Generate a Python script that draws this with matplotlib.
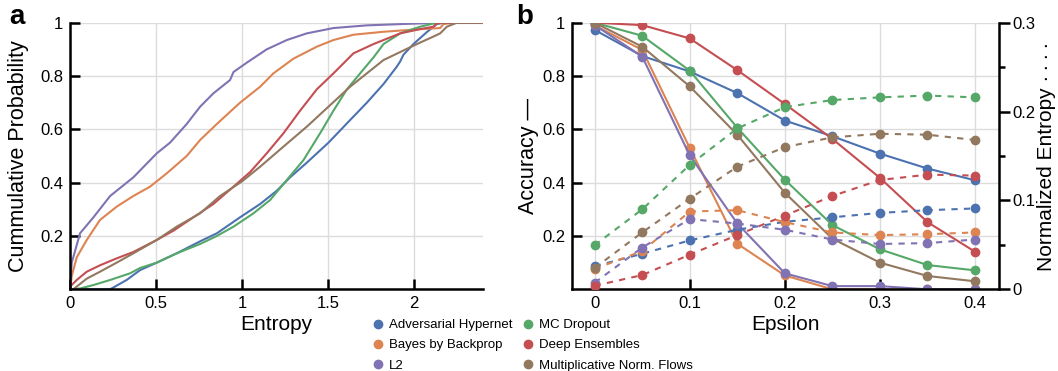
import matplotlib
matplotlib.use('Agg')
import matplotlib.pyplot as plt
from matplotlib.lines import Line2D
from matplotlib.ticker import FuncFormatter, MultipleLocator

plt.rcParams['font.family'] = ['Liberation Sans', 'DejaVu Sans']

# ---- data -------------------------------------------------------------
methods = ['Adversarial Hypernet', 'Bayes by Backprop', 'L2',
           'MC Dropout', 'Deep Ensembles', 'Multiplicative Norm. Flows']
colors = ['#4C72B0', '#DD8452', '#8172B3', '#55A868', '#C44E52', '#937860']

ent_ah = [0, 0.233, 0.329, 0.407, 0.504, 0.620, 0.756, 0.853, 0.988, 1.105, 1.202,
          1.279, 1.376, 1.502, 1.628, 1.725, 1.822, 1.899, 1.919, 1.938, 1.996,
          2.074, 2.132, 2.171, 2.4]
cdf_ah = [0, 0.0, 0.035, 0.072, 0.10, 0.135, 0.18, 0.21, 0.27, 0.32, 0.37,
          0.42, 0.475, 0.55, 0.635, 0.70, 0.77, 0.835, 0.855, 0.88, 0.92,
          0.965, 0.995, 1.0, 1.0]

ent_bbb = [0, 0.01, 0.039, 0.097, 0.174, 0.271, 0.368, 0.465, 0.562, 0.678, 0.756,
           0.853, 0.988, 1.105, 1.182, 1.298, 1.434, 1.531, 1.647, 1.822, 2.016,
           2.151, 2.171, 2.229, 2.4]
cdf_bbb = [0, 0.05, 0.12, 0.185, 0.26, 0.31, 0.35, 0.385, 0.435, 0.50, 0.56,
           0.62, 0.70, 0.76, 0.81, 0.865, 0.91, 0.935, 0.955, 0.966, 0.975,
           0.98, 0.995, 1.0, 1.0]

ent_l2 = [0, 0.01, 0.058, 0.136, 0.233, 0.368, 0.504, 0.581, 0.678, 0.756, 0.833,
          0.930, 0.95, 1.027, 1.143, 1.26, 1.376, 1.531, 1.725, 2.016, 2.21, 2.4]
cdf_l2 = [0, 0.10, 0.21, 0.27, 0.35, 0.42, 0.51, 0.55, 0.62, 0.685, 0.735,
          0.785, 0.815, 0.85, 0.90, 0.935, 0.96, 0.98, 0.99, 0.997, 1.0, 1.0]

ent_mc = [0, 0.058, 0.136, 0.233, 0.349, 0.407, 0.504, 0.620, 0.756, 0.853, 0.95,
          1.066, 1.163, 1.26, 1.357, 1.453, 1.531, 1.609, 1.686, 1.764, 1.822,
          1.919, 2.035, 2.112, 2.2, 2.4]
cdf_mc = [0, 0.003, 0.016, 0.035, 0.06, 0.08, 0.10, 0.135, 0.17, 0.20, 0.235,
          0.285, 0.335, 0.41, 0.485, 0.585, 0.67, 0.75, 0.81, 0.87, 0.92,
          0.96, 0.985, 0.997, 1.0, 1.0]

ent_de = [0, 0.039, 0.097, 0.174, 0.271, 0.368, 0.504, 0.601, 0.717, 0.833, 0.95,
          1.047, 1.143, 1.24, 1.337, 1.434, 1.531, 1.647, 1.764, 1.919, 2.035,
          2.112, 2.132, 2.151, 2.4]
cdf_de = [0.01, 0.035, 0.066, 0.09, 0.116, 0.14, 0.185, 0.22, 0.27, 0.32, 0.385,
          0.44, 0.51, 0.585, 0.67, 0.75, 0.81, 0.885, 0.92, 0.96, 0.976,
          0.985, 0.997, 1.0, 1.0]

ent_mnf = [0.019, 0.097, 0.174, 0.271, 0.368, 0.504, 0.620, 0.756, 0.872, 1.0,
           1.105, 1.24, 1.376, 1.502, 1.628, 1.725, 1.822, 1.919, 2.016, 2.112,
           2.151, 2.19, 2.248, 2.4]
cdf_mnf = [0, 0.04, 0.066, 0.10, 0.135, 0.185, 0.235, 0.285, 0.35, 0.405,
           0.46, 0.535, 0.61, 0.685, 0.76, 0.81, 0.86, 0.89, 0.92, 0.948,
           0.96, 0.985, 1.0, 1.0]

# panel b: accuracy (solid) and normalized entropy (dashed) vs. epsilon
epsilon = [0, 0.05, 0.1, 0.15, 0.2, 0.25, 0.3, 0.35, 0.4]
acc_ah = [0.973, 0.875, 0.817, 0.736, 0.633, 0.574, 0.509, 0.453, 0.409]
acc_bbb = [0.99, 0.898, 0.53, 0.171, 0.052, 0.0, 0.0, 0.0, 0.0]
acc_l2 = [0.991, 0.873, 0.502, 0.247, 0.06, 0.012, 0.012, 0.0, 0.0]
acc_mc = [1.0, 0.951, 0.82, 0.606, 0.411, 0.241, 0.15, 0.091, 0.071]
acc_de = [1.0, 0.991, 0.941, 0.822, 0.695, 0.564, 0.418, 0.252, 0.141]
acc_mnf = [1.0, 0.91, 0.761, 0.58, 0.362, 0.19, 0.10, 0.05, 0.03]

nent_ah = [0.026, 0.040, 0.055, 0.067, 0.076, 0.081, 0.086, 0.089, 0.091]
nent_bbb = [0.023, 0.043, 0.0875, 0.089, 0.0756, 0.064, 0.061, 0.062, 0.064]
nent_l2 = [0.0075, 0.047, 0.079, 0.074, 0.067, 0.056, 0.051, 0.052, 0.056]
nent_mc = [0.0497, 0.090, 0.140, 0.181, 0.205, 0.213, 0.216, 0.218, 0.216]
nent_de = [0.004, 0.016, 0.039, 0.061, 0.083, 0.105, 0.123, 0.129, 0.128]
nent_mnf = [0.024, 0.064, 0.102, 0.138, 0.160, 0.171, 0.175, 0.174, 0.168]

cdf_curves = [(ent_ah, cdf_ah), (ent_bbb, cdf_bbb), (ent_l2, cdf_l2),
              (ent_mc, cdf_mc), (ent_de, cdf_de), (ent_mnf, cdf_mnf)]
acc_curves = [acc_ah, acc_bbb, acc_l2, acc_mc, acc_de, acc_mnf]
nent_curves = [nent_ah, nent_bbb, nent_l2, nent_mc, nent_de, nent_mnf]

# ---- figure -----------------------------------------------------------
fig = plt.figure(figsize=(10.58, 3.71), dpi=100)
fmt = FuncFormatter(lambda v, p: f'{v:g}')
grid_kw = dict(color='#dcdcdc', linewidth=1.0)


def style_axis(ax):
    ax.spines['top'].set_visible(False)
    ax.spines['right'].set_visible(False)
    for s in ('left', 'bottom'):
        ax.spines[s].set_linewidth(1.8)
    ax.tick_params(direction='in', length=7, width=1.8, labelsize=12, pad=5)
    ax.xaxis.set_major_formatter(fmt)
    ax.yaxis.set_major_formatter(fmt)
    ax.grid(True, **grid_kw)
    ax.set_axisbelow(True)


# Panel a
ax1 = fig.add_axes([0.0662, 0.2202, 0.3903, 0.7186])
for (x, y), c in zip(cdf_curves, colors):
    ax1.plot(x, y, color=c, linewidth=1.5)
ax1.set_xlim(0, 2.4)
ax1.set_ylim(0, 1)
ax1.set_xticks([0, 0.5, 1, 1.5, 2])
ax1.set_yticks([0.2, 0.4, 0.6, 0.8, 1])
style_axis(ax1)
ax1.set_xlabel('Entropy', fontsize=15, labelpad=3)
ax1.set_ylabel('Cummulative Probability', fontsize=15.5, labelpad=8)
fig.text(0.009, 0.955, 'a', fontsize=20, fontweight='bold', ha='left', va='center')

# Panel b
ax2 = fig.add_axes([0.5406, 0.2202, 0.4036, 0.7186])
ax3 = ax2.twinx()
for acc, c in zip(acc_curves, colors):
    ax2.plot(epsilon, acc, color=c, linewidth=1.5, marker='o', markersize=6)
for ne, c in zip(nent_curves, colors):
    ax3.plot(epsilon, ne, color=c, linewidth=1.5, marker='o', markersize=6,
             dashes=(3, 3))
ax2.set_xlim(-0.0239, 0.4252)
ax2.set_ylim(0, 1)
ax3.set_ylim(0, 0.3)
ax2.set_xticks([0, 0.1, 0.2, 0.3, 0.4])
ax2.set_yticks([0.2, 0.4, 0.6, 0.8, 1])
style_axis(ax2)
ax2.set_xlabel('Epsilon', fontsize=15, labelpad=3)
ax2.set_ylabel('Accuracy \u2014', fontsize=15.5, labelpad=2)

ax3.spines['top'].set_visible(False)
ax3.spines['left'].set_visible(False)
ax3.spines['bottom'].set_visible(False)
ax3.spines['right'].set_linewidth(1.8)
ax3.set_yticks([0, 0.1, 0.2, 0.3])
ax3.yaxis.set_minor_locator(MultipleLocator(0.05))
ax3.yaxis.set_major_formatter(fmt)
ax3.tick_params(axis='y', which='major', direction='out', length=8, width=1.8,
                labelsize=12, pad=2)
ax3.tick_params(axis='y', which='minor', direction='out', length=4, width=1.8)
ax3.set_ylabel('Normalized Entropy \u00b7\u2009\u00b7\u2009\u00b7\u2009\u00b7',
               fontsize=15, labelpad=1)
fig.text(0.488, 0.955, 'b', fontsize=20, fontweight='bold', ha='left', va='center')

# shared legend
handles = [Line2D([], [], linestyle='none', marker='o', markersize=6, color=c)
           for c in colors]
fig.legend(handles, methods, loc='upper left', bbox_to_anchor=(0.354, 0.140),
           ncol=2, frameon=False, fontsize=9.5, handlelength=0.6,
           handletextpad=0.5, columnspacing=0.9, labelspacing=0.6,
           borderpad=0, borderaxespad=0)

fig.savefig('out.png', dpi=100)
